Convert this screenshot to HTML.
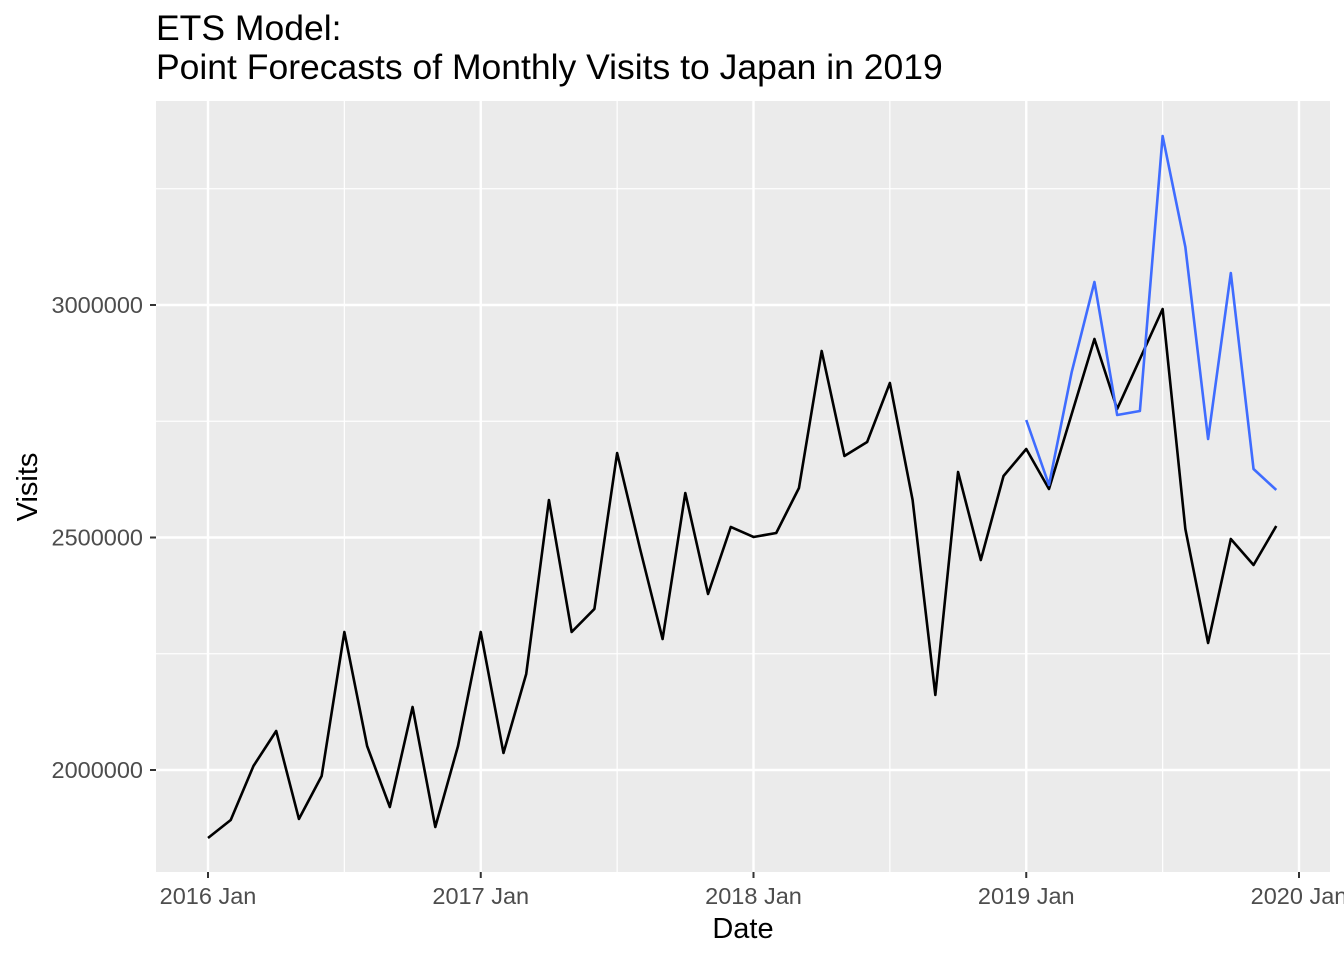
<!DOCTYPE html>
<html><head><meta charset="utf-8"><style>
body{margin:0;background:#fff;font-family:"Liberation Sans",sans-serif}
</style></head><body>
<svg id="chart" width="1344" height="960" xmlns="http://www.w3.org/2000/svg">
<text x="156" y="40" font-size="35.5" fill="#000">ETS Model:</text>
<text x="156" y="79" font-size="35.5" fill="#000">Point Forecasts of Monthly Visits to Japan in 2019</text>
<rect x="156" y="101" width="1174" height="771" fill="#ebebeb"/>
<g id="grid"></g>
<g id="series"></g>
<g id="axes"></g>
<text x="743" y="938" font-size="29" text-anchor="middle">Date</text>
<text transform="translate(37,487) rotate(-90)" font-size="29" text-anchor="middle">Visits</text>
</svg>
<script>
const actual=[1853800,1892500,2008600,2083900,1894700,1987100,2296800,2051600,1920400,2135500,1877400,2051600,
2296800,2036600,2206500,2580600,2296800,2346300,2681700,2477400,2281700,2595700,2378500,2522600,
2501100,2509700,2606500,2901100,2675300,2705400,2832300,2580600,2161300,2640900,2451600,2632300,
2690300,2604300,2765600,2926900,2776400,2883900,2991400,2518300,2273100,2496800,2440900,2524700];
const forecast=[2752700,2612900,2855900,3049500,2763500,2772000,3363400,3124700,2711800,3068800,2647300,2602200];
const yTicks=[2000000,2500000,3000000];
const yMinor=[2250000,2750000,3250000];
const xTickYears=[2016,2017,2018,2019,2020];
const xTickLabels=["2016 Jan","2017 Jan","2018 Jan","2019 Jan","2020 Jan"];

const NS="http://www.w3.org/2000/svg";
function X(m){return 208+m*(1299-208)/48;}
function Y(v){return 305+(3000000-v)*232.5/500000;}
function mk(tag,attrs,parent){const e=document.createElementNS(NS,tag);for(const k in attrs)e.setAttribute(k,attrs[k]);parent.appendChild(e);return e;}
const grid=document.getElementById('grid'),axes=document.getElementById('axes'),series=document.getElementById('series');
yMinor.forEach(v=>{const l=mk('line',{x1:156,x2:1330,y1:Y(v),y2:Y(v),stroke:'#fff','stroke-width':1.2},grid);

});
xTickYears.slice(0,4).forEach(y=>{const x=X((y-2016)*12+6);const l=mk('line',{x1:x,x2:x,y1:101,y2:872,stroke:'#fff','stroke-width':1.2},grid);

});
yTicks.forEach(v=>{const l=mk('line',{x1:156,x2:1330,y1:Y(v),y2:Y(v),stroke:'#fff','stroke-width':2.4},grid);


const t=mk('line',{x1:150,x2:156,y1:Y(v),y2:Y(v),stroke:'#333','stroke-width':2},axes);


const tx=mk('text',{x:143,y:Y(v)+8,'font-size':23.5,fill:'#4d4d4d','text-anchor':'end'},axes);tx.textContent=v;

});
xTickYears.forEach((y,i)=>{const x=X((y-2016)*12);const l=mk('line',{x1:x,x2:x,y1:101,y2:872,stroke:'#fff','stroke-width':2.4},grid);


const t=mk('line',{x1:x,x2:x,y1:872,y2:878,stroke:'#333','stroke-width':2},axes);


const tx=mk('text',{x:x,y:904,'font-size':23.5,fill:'#4d4d4d','text-anchor':'middle'},axes);tx.textContent=xTickLabels[i];

});
const pA=mk('polyline',{points:actual.map((v,i)=>X(i)+','+Y(v)).join(' '),fill:'none',stroke:'#000','stroke-width':2.6,'stroke-linejoin':'round'},series);


const pF=mk('polyline',{points:forecast.map((v,i)=>X(36+i)+','+Y(v)).join(' '),fill:'none',stroke:'#3f6cff','stroke-width':2.6,'stroke-linejoin':'round'},series);


</script>
</body></html>
